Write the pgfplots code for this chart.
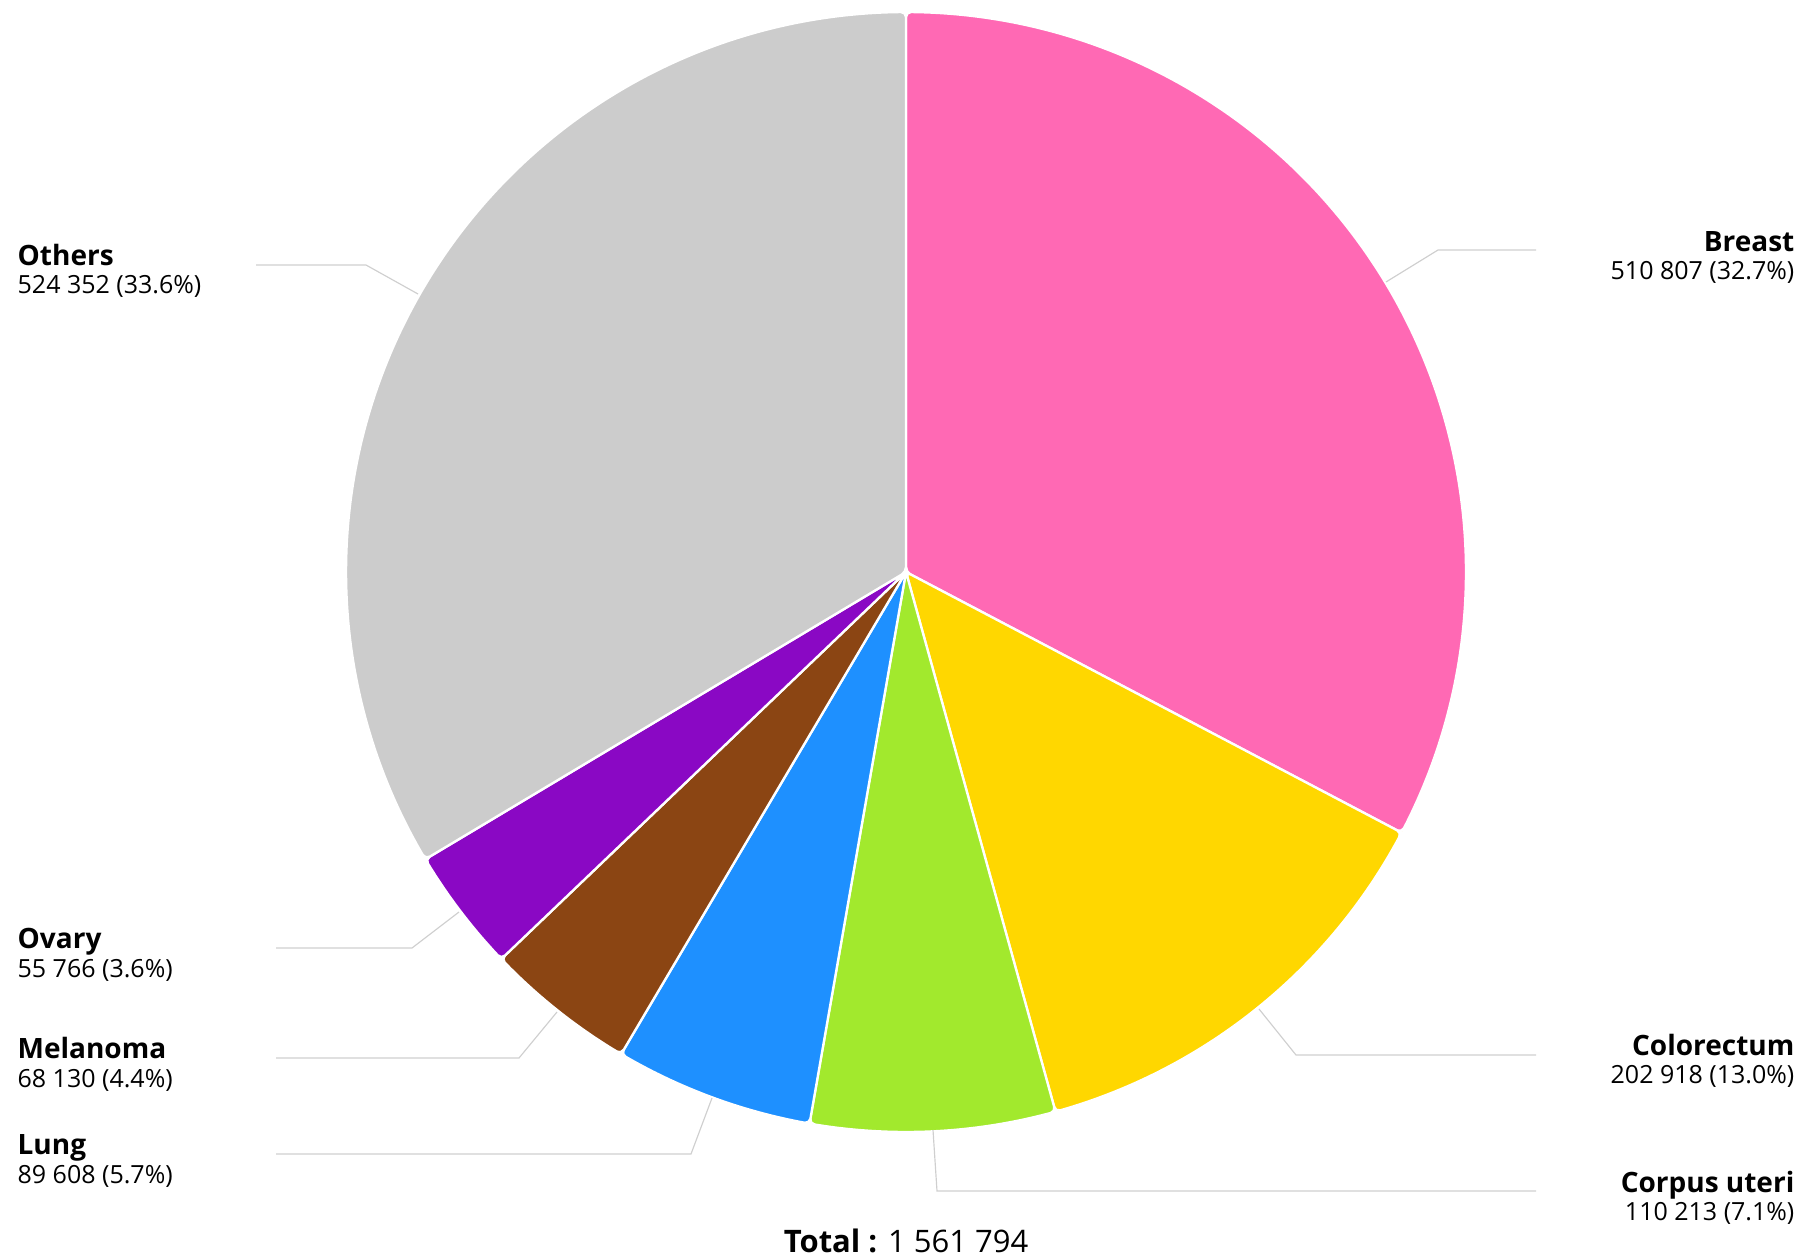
\documentclass[border=0pt]{standalone}
\usepackage{fontspec}
\setmainfont{Open Sans}
\usepackage{pgfplots}
\pgfplotsset{compat=1.18}

\definecolor{cBreast}{HTML}{FF69B4}
\definecolor{cColo}{HTML}{FFD700}
\definecolor{cCorpus}{HTML}{A2E92D}
\definecolor{cLung}{HTML}{1E90FF}
\definecolor{cMela}{HTML}{8B4513}
\definecolor{cOvary}{HTML}{8A08C4}
\definecolor{cOthers}{HTML}{CCCCCC}
\definecolor{leader}{HTML}{CFCFCF}

% counts
\def\vBreast{510807}
\def\vColo{202918}
\def\vCorpus{110213}
\def\vLung{89608}
\def\vMela{68130}
\def\vOvary{55766}
\def\vOthers{524352}
\edef\total{\fpeval{\vBreast+\vColo+\vCorpus+\vLung+\vMela+\vOvary+\vOthers}}

% slice boundaries, clockwise from the top
\edef\aA{90}
\edef\aB{\fpeval{\aA-360*\vBreast/\total}}
\edef\aC{\fpeval{\aB-360*\vColo/\total}}
\edef\aD{\fpeval{\aC-360*\vCorpus/\total}}
\edef\aE{\fpeval{\aD-360*\vLung/\total}}
\edef\aF{\fpeval{\aE-360*\vMela/\total}}
\edef\aG{\fpeval{\aF-360*\vOvary/\total}}
\edef\aH{\fpeval{\aG-360*\vOthers/\total}}

\tikzset{
  nm/.style={font=\fontsize{8.4}{10}\selectfont\bfseries, inner sep=0pt},
  nv/.style={font=\fontsize{7.5}{9}\selectfont, inner sep=0pt},
}
\pgfplotsset{
  slice/.style={fill=#1, draw=white, line width=0.7pt, rounded corners=1.5pt,
    samples=120, no marks},
  lead/.style={leader, line width=0.35pt, no marks},
}

\begin{document}
\begin{tikzpicture}
\begin{axis}[
    width=541.2pt, height=377.4pt, scale only axis,
    xmin=0, xmax=1804, ymin=0, ymax=1258,
    y dir=reverse,
    hide axis, clip=false,
  ]
  \path (axis cs:0,0) rectangle (axis cs:1804,1258);

  \addplot[slice=cBreast, domain=\aB:\aA] ({906+560*cos(x)},{572-560*sin(x)}) -- (axis cs:906,572) -- cycle;
  \addplot[slice=cColo, domain=\aC:\aB] ({906+560*cos(x)},{572-560*sin(x)}) -- (axis cs:906,572) -- cycle;
  \addplot[slice=cCorpus, domain=\aD:\aC] ({906+560*cos(x)},{572-560*sin(x)}) -- (axis cs:906,572) -- cycle;
  \addplot[slice=cLung, domain=\aE:\aD] ({906+560*cos(x)},{572-560*sin(x)}) -- (axis cs:906,572) -- cycle;
  \addplot[slice=cMela, domain=\aF:\aE] ({906+560*cos(x)},{572-560*sin(x)}) -- (axis cs:906,572) -- cycle;
  \addplot[slice=cOvary, domain=\aG:\aF] ({906+560*cos(x)},{572-560*sin(x)}) -- (axis cs:906,572) -- cycle;
  \addplot[slice=cOthers, domain=\aH:\aG] ({906+560*cos(x)},{572-560*sin(x)}) -- (axis cs:906,572) -- cycle;

  % leader lines
  \addplot[lead] coordinates {(1386,282) (1438,250) (1536,250)};
  \addplot[lead] coordinates {(1259,1009) (1296,1055) (1536,1055)};
  \addplot[lead] coordinates {(933,1130) (937,1191) (1536,1191)};
  \addplot[lead] coordinates {(712,1098) (691,1154) (276,1154)};
  \addplot[lead] coordinates {(557,1012) (519,1058) (276,1058)};
  \addplot[lead] coordinates {(459,912) (412,948) (276,948)};
  \addplot[lead] coordinates {(418,294) (366,265) (256,265)};

  % labels
  \node[nm, anchor=base east] at (axis cs:1795,251) {Breast};
  \node[nv, anchor=base east] at (axis cs:1795,279) {510 807 (32.7\%)};
  \node[nm, anchor=base east] at (axis cs:1795,1055) {Colorectum};
  \node[nv, anchor=base east] at (axis cs:1795,1083) {202 918 (13.0\%)};
  \node[nm, anchor=base east] at (axis cs:1795,1192) {Corpus uteri};
  \node[nv, anchor=base east] at (axis cs:1795,1220) {110 213 (7.1\%)};

  \node[nm, anchor=base west] at (axis cs:17,265) {Others};
  \node[nv, anchor=base west] at (axis cs:17,293) {524 352 (33.6\%)};
  \node[nm, anchor=base west] at (axis cs:17,948) {Ovary};
  \node[nv, anchor=base west] at (axis cs:17,977) {55 766 (3.6\%)};
  \node[nm, anchor=base west] at (axis cs:17,1058) {Melanoma};
  \node[nv, anchor=base west] at (axis cs:17,1087) {68 130 (4.4\%)};
  \node[nm, anchor=base west] at (axis cs:17,1154) {Lung};
  \node[nv, anchor=base west] at (axis cs:17,1183) {89 608 (5.7\%)};

  \node[anchor=base, inner sep=0pt, font=\fontsize{9.3}{11}\selectfont] at (axis cs:906,1252) {\textbf{Total :} 1 561 794};
\end{axis}
\end{tikzpicture}
\end{document}
